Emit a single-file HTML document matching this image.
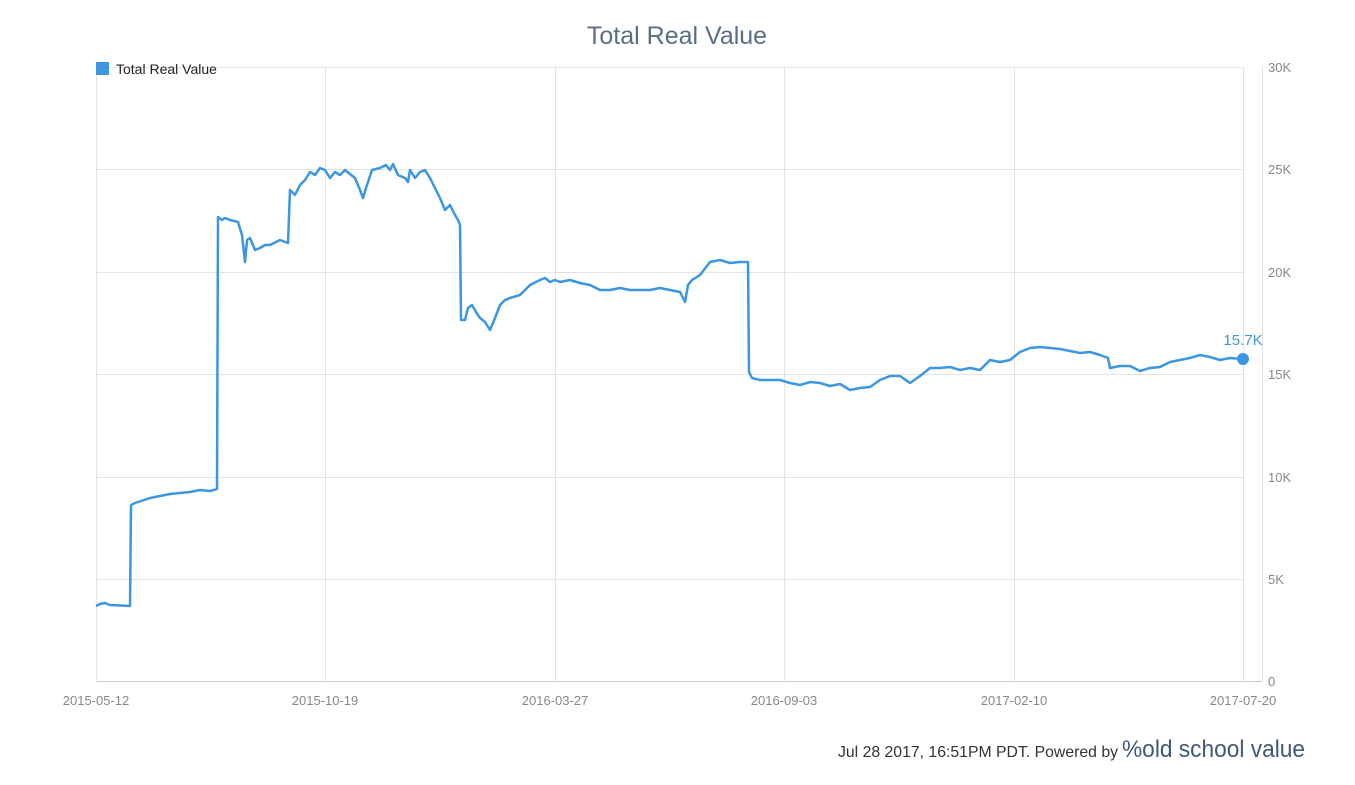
<!DOCTYPE html>
<html><head><meta charset="utf-8"><style>
body{margin:0;background:#fff;}
svg text{font-family:"Liberation Sans",sans-serif;}
</style></head><body>
<svg width="1355" height="780" viewBox="0 0 1355 780" xmlns="http://www.w3.org/2000/svg">
<rect width="1355" height="780" fill="#fff"/>
<text x="677" y="44" text-anchor="middle" font-size="25" fill="#5a6e85">Total Real Value</text>
<g stroke="#e3e3e3" stroke-width="1">
<line x1="96" y1="67.5" x2="1243" y2="67.5"/><line x1="96" y1="169.5" x2="1243" y2="169.5"/>
<line x1="96" y1="272.5" x2="1243" y2="272.5"/><line x1="96" y1="374.5" x2="1243" y2="374.5"/>
<line x1="96" y1="477.5" x2="1243" y2="477.5"/><line x1="96" y1="579.5" x2="1243" y2="579.5"/>
<line x1="325.5" y1="67" x2="325.5" y2="681"/><line x1="555.5" y1="67" x2="555.5" y2="681"/>
<line x1="784.5" y1="67" x2="784.5" y2="681"/><line x1="1014.5" y1="67" x2="1014.5" y2="681"/>
<line x1="1243.5" y1="67" x2="1243.5" y2="681"/><line x1="96.5" y1="67" x2="96.5" y2="681"/>
<line x1="1262.5" y1="67" x2="1262.5" y2="681"/>
</g>
<line x1="96" y1="681.5" x2="1262" y2="681.5" stroke="#ccc"/>
<g font-size="13" fill="#888">
<text x="1268" y="72">30K</text><text x="1268" y="174">25K</text><text x="1268" y="277">20K</text>
<text x="1268" y="379">15K</text><text x="1268" y="482">10K</text><text x="1268" y="584">5K</text><text x="1268" y="686">0</text>
<g text-anchor="middle"><text x="96" y="705">2015-05-12</text><text x="325" y="705">2015-10-19</text><text x="555" y="705">2016-03-27</text>
<text x="784" y="705">2016-09-03</text><text x="1014" y="705">2017-02-10</text><text x="1243" y="705">2017-07-20</text></g>
</g>
<rect x="96" y="62" width="13" height="13" fill="#3c96e0"/>
<text x="116" y="74" font-size="14" fill="#222">Total Real Value</text>
<polyline fill="none" stroke="#3c96e0" stroke-width="2.5" stroke-linejoin="round" points="96,606 100,604 105,603 110,605 130,606 131,505 135,503 150,498 170,494 190,492 200,490 210,491 217,489 218,217 222,220 225,218 230,220 238,222 242,235 245,262 247,240 250,238 255,250 260,248 265,245 270,245 280,240 288,243 290,190 295,195 300,185 305,180 310,172 315,175 320,168 325,170 330,178 335,172 340,175 345,170 355,178 360,190 363,198 367,185 372,170 380,168 386,165 390,170 393,164 398,175 405,178 408,182 410,170 415,178 420,172 425,170 430,178 435,188 440,198 445,210 450,205 455,215 458,220 460,225 461,320 465,320 468,308 472,305 476,312 480,318 485,322 490,330 495,318 500,305 505,300 510,298 520,295 530,285 540,280 545,278 550,282 555,280 560,282 570,280 580,283 590,285 600,290 610,290 620,288 630,290 640,290 650,290 660,288 670,290 680,292 685,302 688,285 692,280 700,275 710,262 720,260 730,263 740,262 748,262 749,372 752,378 760,380 780,380 790,383 800,385 810,382 820,383 830,386 840,384 850,390 860,388 870,387 880,380 890,376 900,376 910,383 920,376 930,368 940,368 950,367 960,370 970,368 980,370 990,360 1000,362 1010,360 1020,352 1030,348 1040,347 1050,348 1060,349 1070,351 1080,353 1090,352 1100,355 1108,358 1110,368 1120,366 1130,366 1140,371 1150,368 1160,367 1170,362 1180,360 1190,358 1200,355 1210,357 1220,360 1230,358 1243,359"/>
<circle cx="1243" cy="359" r="6" fill="#3c96e0"/>
<text x="1243" y="345" text-anchor="middle" font-size="15" fill="#3c96e0">15.7K</text>
<text x="1118" y="757" text-anchor="end" font-size="16" fill="#333" textLength="280" lengthAdjust="spacingAndGlyphs">Jul 28 2017, 16:51PM PDT. Powered by</text>
<text x="1122" y="757" font-size="24" fill="#3d5a7a" textLength="183" lengthAdjust="spacingAndGlyphs">%old school value</text>
</svg>
</body></html>
